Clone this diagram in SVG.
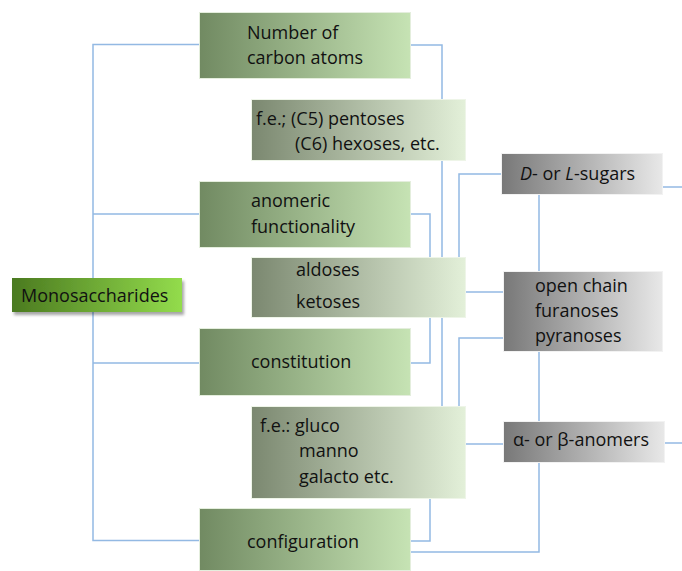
<svg xmlns="http://www.w3.org/2000/svg" width="682" height="571" viewBox="0 0 682 571">
<defs>
<linearGradient id="gGreen" x1="0" y1="0" x2="1" y2="0"><stop offset="0" stop-color="#718a62"/><stop offset="1" stop-color="#c6e3b4"/></linearGradient>
<linearGradient id="gLight" x1="0" y1="0" x2="1" y2="0"><stop offset="0" stop-color="#7b8870"/><stop offset="1" stop-color="#e3f0d9"/></linearGradient>
<linearGradient id="gGray" x1="0" y1="0" x2="1" y2="0"><stop offset="0" stop-color="#787878"/><stop offset="1" stop-color="#e8e8e8"/></linearGradient>
<linearGradient id="gMono" x1="0" y1="0" x2="1" y2="0"><stop offset="0" stop-color="#4b7a20"/><stop offset="1" stop-color="#93dc4c"/></linearGradient>
<filter id="shadow" x="-10%" y="-20%" width="130%" height="160%"><feDropShadow dx="2" dy="3" stdDeviation="1.5" flood-color="#000" flood-opacity="0.35"/></filter>
</defs>
<style>
.conn{fill:none;stroke:#93b9e3;stroke-width:1.5}
.t{font-family:"Open Sans","Liberation Sans",sans-serif;font-size:18px;fill:#111}
.green{fill:url(#gGreen);stroke:#e4eedd;stroke-width:1}
.light{fill:url(#gLight);stroke:#eef5e8;stroke-width:1}
.gray{fill:url(#gGray);stroke:#f2f2f2;stroke-width:1}
</style>
<g id="connectors">
<path class="conn" d="M199,44.5 H93 V540.5 H199 M93,214 H199 M93,363 H199"/>
<path class="conn" d="M411,45 H442 V406"/>
<path class="conn" d="M411,214 H430 V363 H411"/>
<path class="conn" d="M411,541 H430 V499"/>
<path class="conn" d="M411,552 H539 V195"/>
<path class="conn" d="M501,174 H459 V257"/>
<path class="conn" d="M503,338 H459 V406"/>
<path class="conn" d="M466,292 H503"/>
<path class="conn" d="M466,444 H503"/>
<path class="conn" d="M662,187 H682"/>
<path class="conn" d="M664,443 H682"/>
</g>
<g id="monosaccharides">
<rect x="12" y="278" width="170" height="34" fill="url(#gMono)" filter="url(#shadow)"/>
<text class="t" x="21" y="302">Monosaccharides</text>
</g>
<g id="number">
<rect class="green" x="199.5" y="12.5" width="211" height="66"/>
<text class="t" x="247" y="39">Number of</text>
<text class="t" x="247" y="64">carbon atoms</text>
</g>
<g id="pentoses">
<rect class="light" x="251.5" y="99.5" width="214" height="61"/>
<text class="t" x="256" y="125">f.e.; (C5) pentoses</text>
<text class="t" x="295" y="150">(C6) hexoses, etc.</text>
</g>
<g id="anomeric">
<rect class="green" x="199.5" y="181.5" width="211" height="66"/>
<text class="t" x="251" y="207">anomeric</text>
<text class="t" x="251" y="233">functionality</text>
</g>
<g id="aldoses">
<rect class="light" x="251.5" y="257.5" width="214" height="60"/>
<text class="t" x="296" y="276">aldoses</text>
<text class="t" x="296" y="308">ketoses</text>
</g>
<g id="constitution">
<rect class="green" x="199.5" y="328.5" width="211" height="67"/>
<text class="t" x="251" y="368">constitution</text>
</g>
<g id="gluco">
<rect class="light" x="251.5" y="406.5" width="214" height="92"/>
<text class="t" x="260" y="432">f.e.: gluco</text>
<text class="t" x="299" y="457">manno</text>
<text class="t" x="299" y="483">galacto etc.</text>
</g>
<g id="configuration">
<rect class="green" x="199.5" y="508.5" width="211" height="62"/>
<text class="t" x="247" y="548">configuration</text>
</g>
<g id="sugars">
<rect class="gray" x="501.5" y="153.5" width="161" height="41"/>
<text class="t" x="520" y="180"><tspan font-style="italic">D</tspan>- or <tspan font-style="italic">L</tspan>-sugars</text>
</g>
<g id="openchain">
<rect class="gray" x="503.5" y="271.5" width="159" height="80"/>
<text class="t" x="535" y="292">open chain</text>
<text class="t" x="535" y="317">furanoses</text>
<text class="t" x="535" y="342">pyranoses</text>
</g>
<g id="anomers">
<rect class="gray" x="503.5" y="421.5" width="161" height="41"/>
<text class="t" x="513" y="446">α- or β-anomers</text>
</g>
</svg>
